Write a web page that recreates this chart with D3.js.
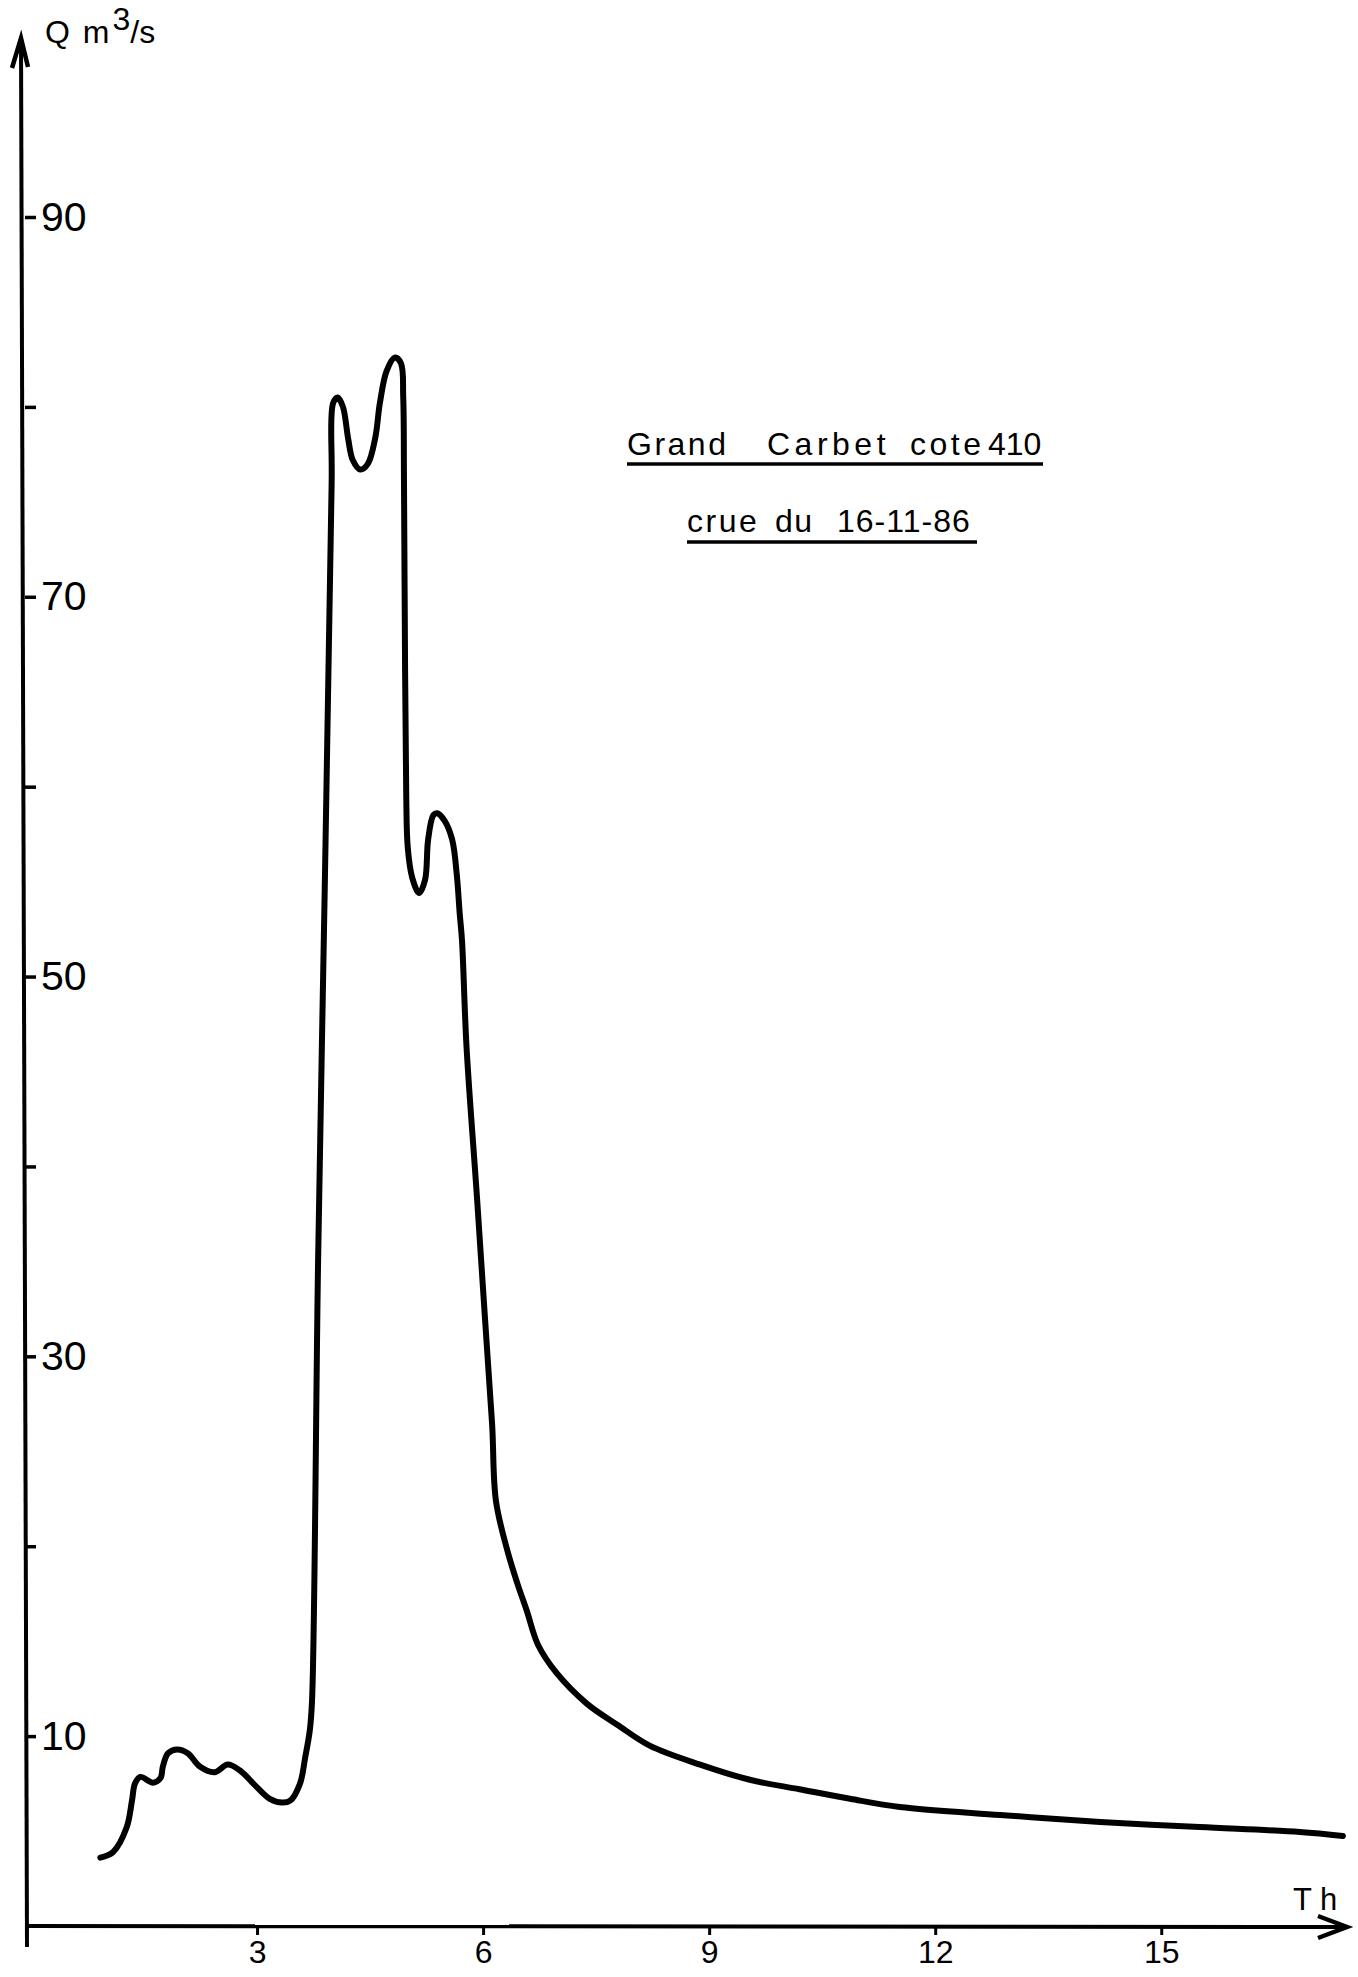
<!DOCTYPE html>
<html>
<head>
<meta charset="utf-8">
<script src="https://cdn.jsdelivr.net/npm/d3@7"></script>
<style>
    html, body { margin: 0; padding: 0; background: #fff; }
    svg { display: block; }
    text { font-family: "Liberation Sans", Arial, Helvetica, sans-serif; fill: #000; }
</style>
</head>
<body>
<svg id="viz"></svg>
<script>

// ---------------------------
// Data (read off the hydrograph)
// ---------------------------

const hours = [
    0.92, 1.09, 1.27, 1.34, 1.38, 1.45, 1.62, 1.72, 1.75, 1.82,
    1.94, 2.08, 2.24, 2.44, 2.61, 2.77, 3.00, 3.17, 3.33, 3.44,
    3.57, 3.64, 3.70, 3.73, 3.81, 3.90, 3.99, 4.01, 4.07, 4.14,
    4.21, 4.27, 4.37, 4.47, 4.57, 4.63, 4.72, 4.83, 4.91, 4.94,
    4.95, 4.965, 4.98, 5.00, 5.06, 5.15, 5.23, 5.27, 5.34, 5.39,
    5.49, 5.59, 5.65, 5.69, 5.72, 5.78, 5.92, 6.03, 6.12, 6.17,
    6.32, 6.45, 6.58, 6.73, 6.98, 7.38, 7.78, 8.21, 8.88, 9.54,
    10.2, 10.87, 11.53, 12.86, 14.19, 15.51, 16.84, 17.41
];

const flow = [
    3.6, 3.9, 5.2, 6.6, 7.5, 7.85, 7.55, 7.8, 8.4, 9.1,
    9.3, 9.1, 8.4, 8.1, 8.5, 8.2, 7.3, 6.7, 6.5, 6.6,
    7.5, 8.9, 10.3, 11.9, 35.0, 55.0, 76.0, 80.2, 80.5, 80.0,
    78.3, 77.2, 76.7, 77.0, 78.4, 80.2, 81.9, 82.6, 82.3, 80.5,
    76.1, 66.0, 59.5, 56.8, 55.2, 54.4, 55.1, 57.2, 58.5, 58.6,
    58.2, 57.2, 55.4, 53.3, 51.9, 46.3, 38.3, 31.7, 26.4, 22.4,
    19.8, 18.1, 16.6, 14.8, 13.3, 11.7, 10.6, 9.5, 8.5, 7.7,
    7.2, 6.7, 6.27, 5.85, 5.48, 5.21, 4.95, 4.74
];

const xTicks = [3, 6, 9, 12, 15];
const yTicks = [10, 20, 30, 40, 50, 60, 70, 80, 90];
const yLabels = [10, 30, 50, 70, 90];

const titleLine1 = ["Grand", "Carbet", "cote", "410"];
const titleLine2 = ["crue", "du", "16-11-86"];

// ---------------------------
// Create SVG
// ---------------------------

const width = 1358;
const height = 1977;

const svg = d3.select("#viz")
    .attr("width", width)
    .attr("height", height)
    .attr("viewBox", `0 0 ${width} ${height}`);

const x = d3.scaleLinear()
    .domain([0, 18])
    .range([31, 31 + 75.35 * 18]);

const y = d3.scaleLinear()
    .domain([0, 90])
    .range([1926, 217]);

const axisX = 25;
const axisY = y(0);

// ---------------------------
// Axes
// ---------------------------

// vertical axis line + arrow
svg.append("path")
    .attr("d", `M27,${axisY + 21} L21,38`)
    .attr("stroke", "#000")
    .attr("stroke-width", 4)
    .attr("fill", "none");

svg.append("path")
    .attr("d", "M12,68 L21,38 L28,67")
    .attr("stroke", "#000")
    .attr("stroke-width", 4.5)
    .attr("fill", "none");

// horizontal axis line + arrow
svg.append("path")
    .attr("d", `M${axisX},${axisY} L1347,${axisY + 1}`)
    .attr("stroke", "#000")
    .attr("stroke-width", 4)
    .attr("fill", "none");

svg.append("path")
    .attr("d", `M1318,${axisY - 10} L1347,${axisY + 1} L1318,${axisY + 12}`)
    .attr("stroke", "#000")
    .attr("stroke-width", 4.5)
    .attr("fill", "none");

const yAxis = svg.append("g")
    .attr("transform", `translate(${axisX},0)`)
    .call(d3.axisRight(y)
        .tickValues(yTicks)
        .tickSize(11)
        .tickPadding(5)
        .tickFormat(d => yLabels.includes(d) ? d : ""));

yAxis.select(".domain").remove();
yAxis.selectAll("line").attr("stroke", "#000").attr("stroke-width", 3.5);
yAxis.selectAll("text")
    .attr("font-size", 41)
    .style("font-family", "'Liberation Sans', Arial, sans-serif")
    .attr("fill", "#000");

const xAxis = svg.append("g")
    .attr("transform", `translate(0,${axisY})`)
    .call(d3.axisBottom(x)
        .tickValues(xTicks)
        .tickSize(9)
        .tickPadding(5));

xAxis.select(".domain").remove();
xAxis.selectAll("line").attr("stroke", "#000").attr("stroke-width", 3);
xAxis.selectAll("text")
    .attr("font-size", 32)
    .style("font-family", "'Liberation Sans', Arial, sans-serif")
    .attr("fill", "#000");

// axis titles
const qLabel = svg.append("text")
    .attr("x", 45)
    .attr("y", 43)
    .attr("font-size", 32);

qLabel.append("tspan").attr("letter-spacing", 2).text("Q m");
qLabel.append("tspan").attr("dy", -13).attr("dx", 1).text("3");
qLabel.append("tspan").attr("dy", 13).text("/s");

svg.append("text")
    .attr("x", 1293)
    .attr("y", 1910)
    .attr("font-size", 31)
    .attr("letter-spacing", 8)
    .text("Th");

// ---------------------------
// Title block
// ---------------------------

const line1X = [627, 767, 910, 988];
const line1Spacing = [2.5, 4.5, 3.5, 0];

svg.append("g").selectAll("text")
    .data(titleLine1)
    .join("text")
    .attr("x", (d, i) => line1X[i])
    .attr("y", 455)
    .attr("font-size", 32)
    .attr("letter-spacing", (d, i) => line1Spacing[i])
    .text(d => d);

svg.append("line")
    .attr("x1", 627).attr("x2", 1043)
    .attr("y1", 464).attr("y2", 464)
    .attr("stroke", "#000")
    .attr("stroke-width", 3.5);

const line2X = [687, 775, 837];
const line2Spacing = [2.5, 1.5, 1];

svg.append("g").selectAll("text")
    .data(titleLine2)
    .join("text")
    .attr("x", (d, i) => line2X[i])
    .attr("y", 532)
    .attr("font-size", 32)
    .attr("letter-spacing", (d, i) => line2Spacing[i])
    .text(d => d);

svg.append("line")
    .attr("x1", 687).attr("x2", 977)
    .attr("y1", 542).attr("y2", 542)
    .attr("stroke", "#000")
    .attr("stroke-width", 3.5);

// ---------------------------
// Hydrograph
// ---------------------------

const points = hours.map((h, i) => [h, flow[i]]);

const line = d3.line()
    .x(d => x(d[0]))
    .y(d => y(d[1]))
    .curve(d3.curveCatmullRom.alpha(0.5));

svg.append("path")
    .datum(points)
    .attr("d", line)
    .attr("fill", "none")
    .attr("stroke", "#000")
    .attr("stroke-width", 6)
    .attr("stroke-linejoin", "round")
    .attr("stroke-linecap", "round");

</script>
</body>
</html>
